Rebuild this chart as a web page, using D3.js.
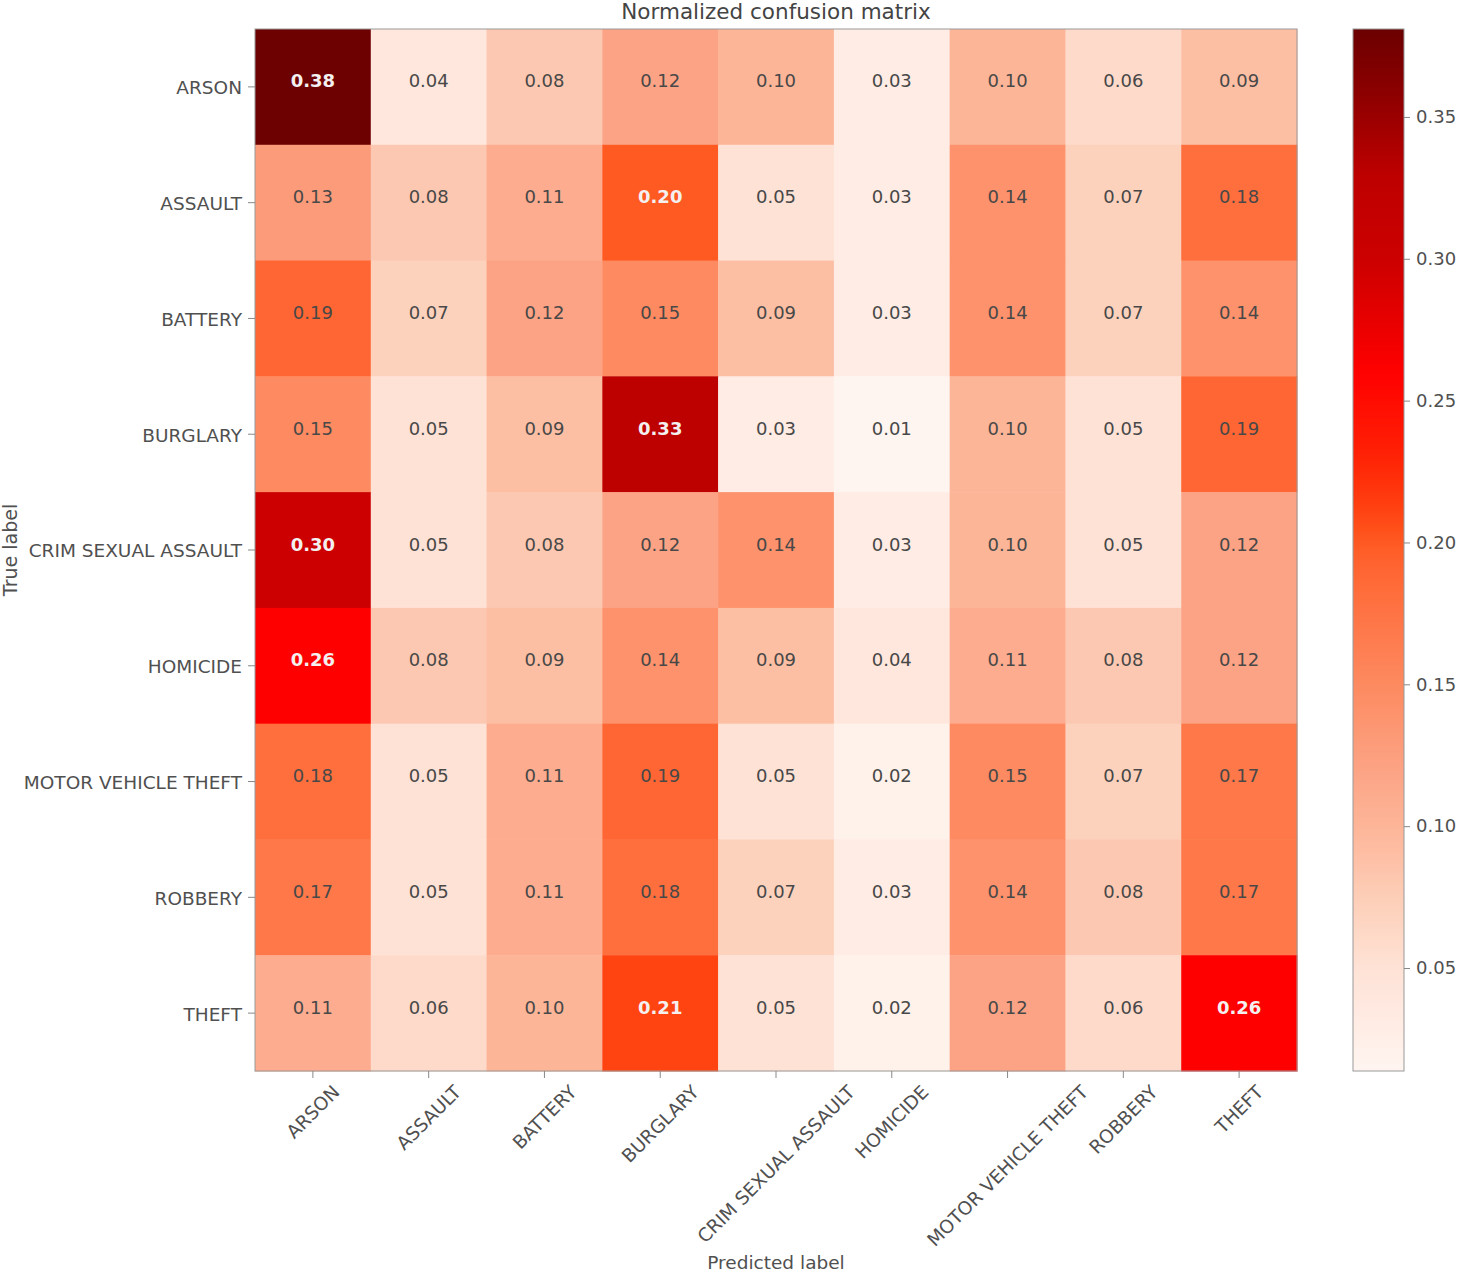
<!DOCTYPE html>
<html><head><meta charset="utf-8">
<script src="https://cdn.jsdelivr.net/npm/d3@7"></script>
<style>body{margin:0;background:#fff;} svg{display:block;font-family:"DejaVu Sans",sans-serif;}</style>
</head><body>
<svg id="chart" width="1458" height="1273"></svg>
<script>
const classes = ["ARSON","ASSAULT","BATTERY","BURGLARY","CRIM SEXUAL ASSAULT","HOMICIDE","MOTOR VEHICLE THEFT","ROBBERY","THEFT"];
const rowArson    = [0.38,0.04,0.08,0.12,0.10,0.03,0.10,0.06,0.09];
const rowAssault  = [0.13,0.08,0.11,0.20,0.05,0.03,0.14,0.07,0.18];
const rowBattery  = [0.19,0.07,0.12,0.15,0.09,0.03,0.14,0.07,0.14];
const rowBurglary = [0.15,0.05,0.09,0.33,0.03,0.01,0.10,0.05,0.19];
const rowCSA      = [0.30,0.05,0.08,0.12,0.14,0.03,0.10,0.05,0.12];
const rowHomicide = [0.26,0.08,0.09,0.14,0.09,0.04,0.11,0.08,0.12];
const rowMVT      = [0.18,0.05,0.11,0.19,0.05,0.02,0.15,0.07,0.17];
const rowRobbery  = [0.17,0.05,0.11,0.18,0.07,0.03,0.14,0.08,0.17];
const rowTheft    = [0.11,0.06,0.10,0.21,0.05,0.02,0.12,0.06,0.26];
const matrix = [rowArson,rowAssault,rowBattery,rowBurglary,rowCSA,rowHomicide,rowMVT,rowRobbery,rowTheft];
const colorbarTicks = [0.05,0.10,0.15,0.20,0.25,0.30,0.35];
const vmin = 0.0137, vmax = 0.381;

// palette (colour ramp sampled from the reference's colorbar)
const rampValues = [vmin, 0.03, 0.05, 0.07, 0.10, 0.12, 0.15, 0.19, 0.20, 0.21, 0.23, 0.26, 0.30, 0.33, 0.35, vmax];
const rampColors = ["#fff5f0","#ffece4","#fee2d6","#fdd2bd","#fdb598","#fca385","#fd8a60","#ff6633","#ff5a22","#ff4412","#ff2205","#ff0000","#cc0000","#bd0000","#9a0000","#6b0000"];

const svg = d3.select("#chart");
const L = 255, R = 1297, T = 29, B = 1071;
const x = d3.scaleBand().domain(classes).range([L, R]);
const y = d3.scaleBand().domain(classes).range([T, B]);
const color = d3.scaleLinear().domain(rampValues).range(rampColors).interpolate(d3.interpolateRgb).clamp(true);
const txtCol = "#505050";

const cells = [];
matrix.forEach((row, i) => row.forEach((v, j) => cells.push({r: classes[i], c: classes[j], v})));

svg.append("g").selectAll("rect").data(cells).join("rect")
  .attr("x", d => x(d.c)).attr("y", d => y(d.r))
  .attr("width", x.bandwidth() + 0.5).attr("height", y.bandwidth() + 0.5)
  .attr("fill", d => color(d.v));

svg.append("g").selectAll("text").data(cells).join("text")
  .attr("x", d => x(d.c) + x.bandwidth() / 2)
  .attr("y", d => y(d.r) + y.bandwidth() / 2 - 6)
  .attr("text-anchor", "middle").attr("dominant-baseline", "central")
  .attr("font-size", 18)
  .attr("fill", d => d.v > 0.195 ? "#f4f0f0" : "#484848")
  .attr("font-weight", d => d.v > 0.195 ? "bold" : "normal")
  .text(d => d.v.toFixed(2));

svg.append("rect").attr("x", L).attr("y", T).attr("width", R - L).attr("height", B - T)
  .attr("fill", "none").attr("stroke", "#999").attr("stroke-width", 1);

// y axis
const yAxis = svg.append("g").attr("transform", `translate(${L},0)`)
  .call(d3.axisLeft(y).tickSize(7).tickPadding(6));
yAxis.select(".domain").remove();
yAxis.selectAll("line").attr("stroke", "#888");
yAxis.selectAll("text").attr("font-size", 18.5).attr("fill", txtCol).attr("font-family", "DejaVu Sans").attr("dy", "0.4em");

// x axis
const xAxis = svg.append("g").attr("transform", `translate(0,${B})`)
  .call(d3.axisBottom(x).tickSize(7).tickFormat(""));
xAxis.select(".domain").remove();
xAxis.selectAll("line").attr("stroke", "#888");

const fs = 18.5;
svg.append("g").selectAll("text").data(classes).join("text")
  .attr("font-size", fs).attr("fill", txtCol)
  .attr("text-anchor", "middle").attr("dominant-baseline", "central")
  .text(d => d)
  .each(function(d) {
    const w = this.getComputedTextLength();
    const h = fs * 0.85;
    const cy = B + 12 + (w + h) * Math.SQRT1_2 / 2;
    d3.select(this).attr("transform", `translate(${x(d) + x.bandwidth() / 2},${cy}) rotate(-45)`);
  });

// title and axis labels
svg.append("text").attr("x", (L + R) / 2).attr("y", 19).attr("text-anchor", "middle")
  .attr("font-size", 21.5).attr("fill", "#444").text("Normalized confusion matrix");
svg.append("text").attr("x", (L + R) / 2).attr("y", 1269).attr("text-anchor", "middle")
  .attr("font-size", 18.5).attr("fill", txtCol).text("Predicted label");
svg.append("text").attr("transform", `translate(17,${(T + B) / 2}) rotate(-90)`).attr("text-anchor", "middle")
  .attr("font-size", 19).attr("fill", txtCol).text("True label");

// colorbar
const cbL = 1353, cbW = 51;
const cy = d3.scaleLinear().domain([vmin, vmax]).range([B, T]);
const defs = svg.append("defs");
const grad = defs.append("linearGradient").attr("id", "cbg").attr("x1", 0).attr("y1", 1).attr("x2", 0).attr("y2", 0);
d3.range(0, 1.0001, 0.02).forEach(t => grad.append("stop").attr("offset", t).attr("stop-color", color(vmin + t * (vmax - vmin))));
svg.append("rect").attr("x", cbL).attr("y", T).attr("width", cbW).attr("height", B - T)
  .attr("fill", "url(#cbg)").attr("stroke", "#999");
const cAxis = svg.append("g").attr("transform", `translate(${cbL + cbW},0)`)
  .call(d3.axisRight(cy).tickValues(colorbarTicks).tickFormat(d3.format(".2f")).tickSize(6).tickPadding(6));
cAxis.select(".domain").remove();
cAxis.selectAll("line").attr("stroke", "#888");
cAxis.selectAll("text").attr("font-size", 18).attr("fill", txtCol).attr("font-family", "DejaVu Sans");
</script>
</body></html>
